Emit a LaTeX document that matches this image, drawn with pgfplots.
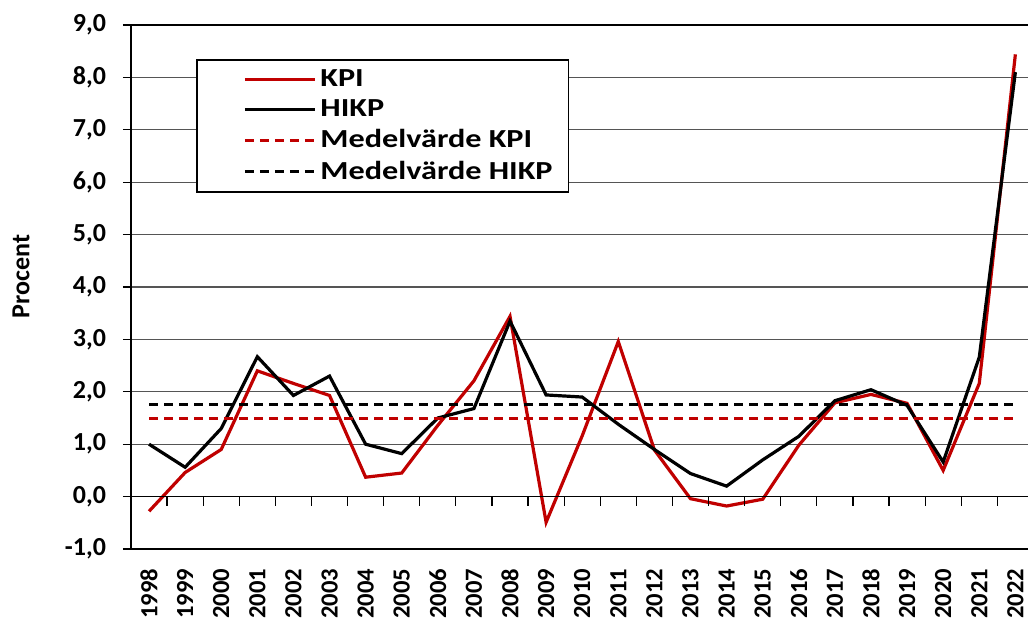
\documentclass[border=0pt]{standalone}
\usepackage{pgfplots}
\pgfplotsset{compat=1.18}
\usepackage{fontspec}
\setmainfont{Carlito}
% the reference's horizontal text is drawn a little wider than the font's own widths
\newfontfamily\widefont{Carlito}[FakeStretch=1.24]
\definecolor{kpired}{HTML}{C00000}
\definecolor{gridgray}{HTML}{555555}

\pgfplotstableread{
x kpi hikp
0 -0.28 1.00
1 0.46 0.56
2 0.90 1.30
3 2.40 2.67
4 2.16 1.93
5 1.93 2.30
6 0.37 1.00
7 0.45 0.82
8 1.36 1.50
9 2.21 1.68
10 3.44 3.35
11 -0.49 1.94
12 1.16 1.90
13 2.96 1.38
14 0.89 0.90
15 -0.04 0.44
16 -0.18 0.20
17 -0.05 0.70
18 0.98 1.15
19 1.79 1.83
20 1.95 2.04
21 1.78 1.74
22 0.50 0.66
23 2.16 2.66
24 8.44 8.10
}\inflation

\begin{document}
\begin{tikzpicture}[font=\fontsize{12.3}{14}\selectfont\bfseries]
\begin{axis}[
  at={(0,0)}, anchor=south west,
  scale only axis, width=448.5pt, height=262pt,
  xmin=-0.5, xmax=24.35, ymin=-1, ymax=9,
  axis x line*=bottom, axis y line*=left,
  axis line style={black, line width=1.2pt},
  ytick={-1,0,...,9},
  yticklabel style={font=\fontsize{13}{15}\selectfont\bfseries, xshift=-5pt,
    /pgf/number format/.cd, fixed, fixed zerofill, precision=1, use comma, assume math mode=true},
  tick align=outside, major tick length=4pt,
  tick style={black, line width=0.6pt},
  ymajorgrids, grid style={gridgray, line width=0.6pt},
  xtick={0,...,24}, x tick style={draw=none},
  xticklabels={1998,1999,2000,2001,2002,2003,2004,2005,2006,2007,2008,2009,2010,2011,2012,2013,2014,2015,2016,2017,2018,2019,2020,2021,2022},
  xticklabel style={rotate=90, anchor=east, xshift=-2.5pt},
  ylabel={Procent},
  ylabel style={font=\fontsize{13}{15}\selectfont\bfseries, at={(axis description cs:-0.1226,0.52)}, anchor=center, rotate=0},
  legend style={at={(0.0725,0.935)}, anchor=north west, draw=black, line width=0.8pt,
    font=\widefont\fontsize{13}{15}\selectfont\bfseries, row sep=1pt,
    inner xsep=6pt, inner ysep=3pt, cells={anchor=west}},
  legend image code/.code={\path[draw=none] (0pt,0pt) -- (18pt,0pt);
    \draw[#1, line width=1.6pt] (18pt,0pt) -- (53pt,0pt);},
  legend cell align=left,
  clip=false,
]
\addplot[kpired, line width=1.6pt] table[x=x, y=kpi] {\inflation};
\addlegendentry{KPI}
\addplot[black, line width=1.6pt] table[x=x, y=hikp] {\inflation};
\addlegendentry{HIKP}
\addplot[kpired, line width=1.6pt, dash pattern=on 4.5pt off 3pt] coordinates {(0,1.49) (24,1.49)};
\addlegendentry{Medelvärde KPI}
\addplot[black, line width=1.6pt, dash pattern=on 4.5pt off 3pt] coordinates {(0,1.76) (24,1.76)};
\addlegendentry{Medelvärde HIKP}
% x axis crosses at zero: the category ticks hang below it
\draw[black, line width=0.8pt] (axis cs:-0.5,0) -- (axis cs:24.35,0);
\pgfplotsinvokeforeach{0,...,23}{
  \draw[black, line width=0.6pt] (axis cs:#1.5,0) -- (axis cs:#1.5,-0.17);
}
\draw[black, line width=1.2pt] (rel axis cs:0,1) -- (rel axis cs:1,1);
\end{axis}
\pgfresetboundingbox
\path (-65.5pt,-36pt) rectangle (448.5pt,274.5pt);
\end{tikzpicture}
\end{document}
